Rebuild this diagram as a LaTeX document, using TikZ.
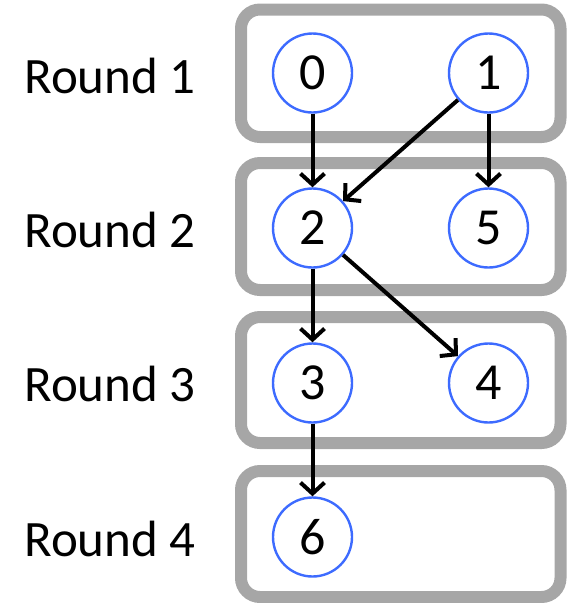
\documentclass[tikz,border=0pt]{standalone}
\usepackage{fontspec}
\setmainfont{Carlito}
\usetikzlibrary{arrows.meta}
\definecolor{boxgray}{HTML}{A6A6A6}
\definecolor{nodeblue}{HTML}{3D6BFF}
\tikzset{
  roundbox/.style={draw=boxgray, line width=12pt, rounded corners=19pt},
  vert/.style={circle, draw=nodeblue, line width=2.4pt, minimum size=79pt, inner sep=0pt, font=\fontsize{52}{52}\selectfont},
  lbl/.style={font=\fontsize{51}{51}\selectfont, anchor=center},
  arr/.style={draw=black, line width=4pt, -{Straight Barb[length=11pt,width=24pt]}}
}
\begin{document}
\begin{tikzpicture}[x=1pt,y=-1pt]
\useasboundingbox (0,0) rectangle (577,603);
% boxes
\draw[roundbox] (241,9.5) rectangle (560.5,137);
\draw[roundbox] (241,163) rectangle (560.5,290);
\draw[roundbox] (241,317) rectangle (560.5,443);
\draw[roundbox] (241,471) rectangle (560.5,597);
% labels
\node[lbl] (r1) at (110,76) {Round 1};
\node[lbl] (r2) at (110,230) {Round 2};
\node[lbl] (r3) at (110,384) {Round 3};
\node[lbl] (r4) at (110,539) {Round 4};
% vertices
\node[vert] (n0) at (312.5,73) {0};
\node[vert] (n1) at (488.5,73) {1};
\node[vert] (n2) at (312.5,228) {2};
\node[vert] (n5) at (488.5,228) {5};
\node[vert] (n3) at (312.5,383) {3};
\node[vert] (n4) at (488.5,383) {4};
\node[vert] (n6) at (312.5,537) {6};
% edges
\draw[arr] (n0) -- (n2);
\draw[arr] (n1) -- (n2);
\draw[arr] (n1) -- (n5);
\draw[arr] (n2) -- (n3);
\draw[arr] (n2) -- (n4);
\draw[arr] (n3) -- (n6);
\end{tikzpicture}
\end{document}
